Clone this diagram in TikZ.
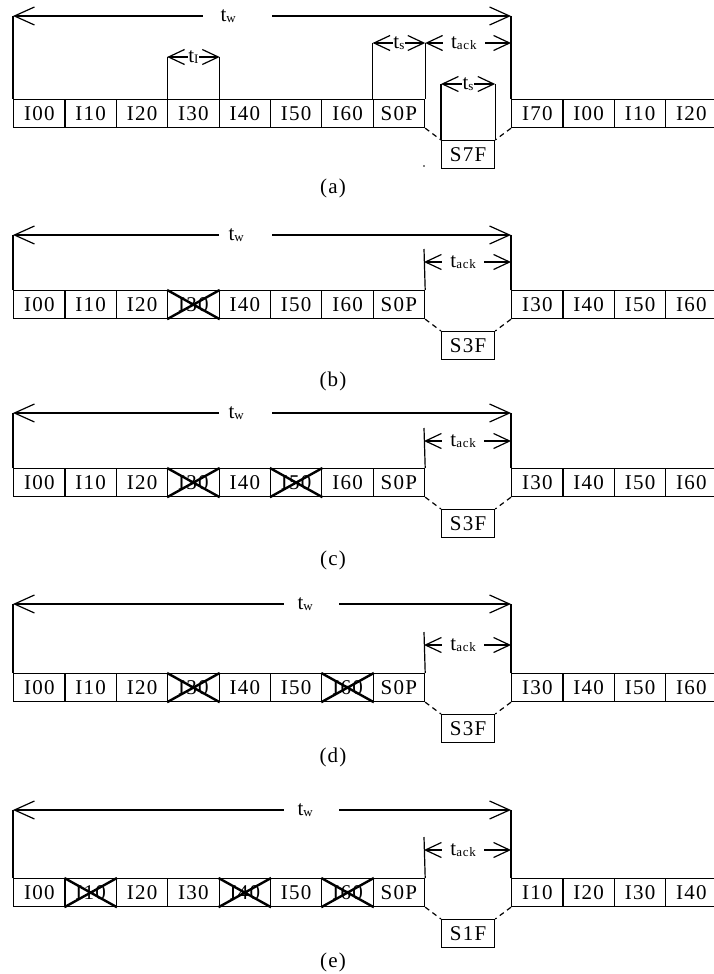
\documentclass[tikz,border=0pt]{standalone}
\usepackage{fontspec}
\setmainfont{Liberation Serif}
\newfontfamily\cellfont[LetterSpace=6]{Liberation Serif}
\usetikzlibrary{arrows.meta}
\newcommand{\lowsub}[1]{\raisebox{-1.5pt}{\fontsize{13}{13}\selectfont\cellfont #1}}

\begin{document}
\begin{tikzpicture}[x=1pt, y=-1pt, line width=1.2pt,
  cell/.style={draw, anchor=north west, inner sep=0pt, minimum width=51.375pt,
    minimum height=28pt, font=\fontsize{21}{24}\cellfont},
  framebox/.style={draw, anchor=north west, inner sep=0pt, minimum width=53pt,
    minimum height=28pt, font=\fontsize{21}{24}\cellfont},
  lost/.style={line width=2.4pt},
  link/.style={dash pattern=on 5pt off 4pt},
  dimw/.style={{Straight Barb[length=20pt,width=18pt]}-{Straight Barb[length=20pt,width=18pt]}},
  dims/.style={{Straight Barb[length=16pt,width=15pt]}-{Straight Barb[length=16pt,width=15pt]}},
  lab/.style={fill=white, inner sep=0.5pt, font=\fontsize{21}{22}\selectfont},
  twlab/.style={fill=white, inner xsep=0pt, inner ysep=1pt, anchor=west,
    font=\fontsize{21}{22}\selectfont},
  captext/.style={font=\fontsize{21}{24}\cellfont}]
  \useasboundingbox (0,0) rectangle (714,974);

  % (a) normal window
  \foreach \lbl [count=\i from 0] in {I00,I10,I20,I30,I40,I50,I60,S0P}
    \node[cell] (a\i) at (13+51.375*\i,99) {\lbl};
  \foreach \lbl [count=\i from 0] in {I70,I00,I10,I20}
    \node[cell] (aR\i) at (511+51.375*\i,99) {\lbl};
  \node[framebox] (aF) at (441,140) {S7F};
  \draw[link] (a7.south east) -- (aF.north west);
  \draw[link] (aR0.south west) -- (aF.north east);
  \coordinate (awL) at (13,16);
  \coordinate (awR) at (511,16);
  \draw (a0.north west) -- (awL);
  \draw (aR0.north west) -- (awR);
  \draw[dimw] (awL) -- (awR);
  \node[twlab] (aw) at (202,16) {\hspace*{18pt}t\lowsub{w}\hspace*{36pt}};
  \draw (a3.north west) -- ++(0,-42) coordinate (aiL);
  \draw (a3.north east) -- ++(0,-42) coordinate (aiR);
  \draw[dims] (aiL) -- (aiR) node[lab, midway] (ai) {t\lowsub{I}};
  \draw (a7.north west) -- ++(0,-56) coordinate (asL);
  \draw (a7.north east) -- ++(0,-56) coordinate (asR);
  \coordinate (aaR) at (511,43);
  \draw[dims] (asL) -- (asR) node[lab, midway] (as) {t\lowsub{s}};
  \draw[dims] (asR) -- (aaR) node[lab, pos=.45, inner xsep=8pt] (aa) {t\lowsub{ack}};
  \draw (aF.north west) -- ++(0,-56) coordinate (afL);
  \draw (aF.north east) -- ++(0,-56) coordinate (afR);
  \draw[dims] (afL) -- (afR) node[lab, midway] (af) {t\lowsub{s}};
  \fill (424,166) circle (0.9pt);
  \node[captext] (acap) at (333,188) {(a)};

  % (b)-(e) lost frames and retransmission
  \foreach \p/\wy/\ay/\cy/\gx/\gl/\gr/\ly/\gone/\resent/\fr in {
      b/235/262/290/218/10/28/381/{3}/{I30,I40,I50,I60}/S3F,
      c/413/441/468/218/10/28/560/{3,5}/{I30,I40,I50,I60}/S3F,
      d/604/645/673/283/14/26/757/{3,6}/{I30,I40,I50,I60}/S3F,
      e/810/850/878/283/14/26/962/{1,4,6}/{I10,I20,I30,I40}/S1F} {
    \foreach \lbl [count=\i from 0] in {I00,I10,I20,I30,I40,I50,I60,S0P}
      \node[cell] (\p\i) at (13+51.375*\i,\cy) {\lbl};
    \foreach \lbl [count=\i from 0] in \resent
      \node[cell] (\p R\i) at (511+51.375*\i,\cy) {\lbl};
    \foreach \k in \gone
      \draw[lost] (\p\k.north west) -- (\p\k.south east)
        (\p\k.south west) -- (\p\k.north east);
    \node[framebox] (\p F) at (441,\cy+41) {\fr};
    \draw[link] (\p7.south east) -- (\p F.north west);
    \draw[link] (\p R0.south west) -- (\p F.north east);
    \coordinate (\p wL) at (13,\wy);
    \coordinate (\p wR) at (511,\wy);
    \coordinate (\p aL) at (424,\ay);
    \coordinate (\p aR) at (511,\ay);
    \coordinate (\p aT) at (424,\ay-13);
    \draw (\p0.north west) -- (\p wL);
    \draw (\p R0.north west) -- (\p wR);
    \draw (\p7.north east) -- (\p aT);
    \draw[dimw] (\p wL) -- (\p wR);
    \node[twlab] (\p w) at (\gx,\wy) {\hspace*{\gl pt}t\lowsub{w}\hspace*{\gr pt}};
    \draw[dims] (\p aL) -- (\p aR) node[lab, pos=.45, inner xsep=8pt] (\p a) {t\lowsub{ack}};
    \node[captext] (\p cap) at (333,\ly) {(\p)};
  }
\end{tikzpicture}
\end{document}
